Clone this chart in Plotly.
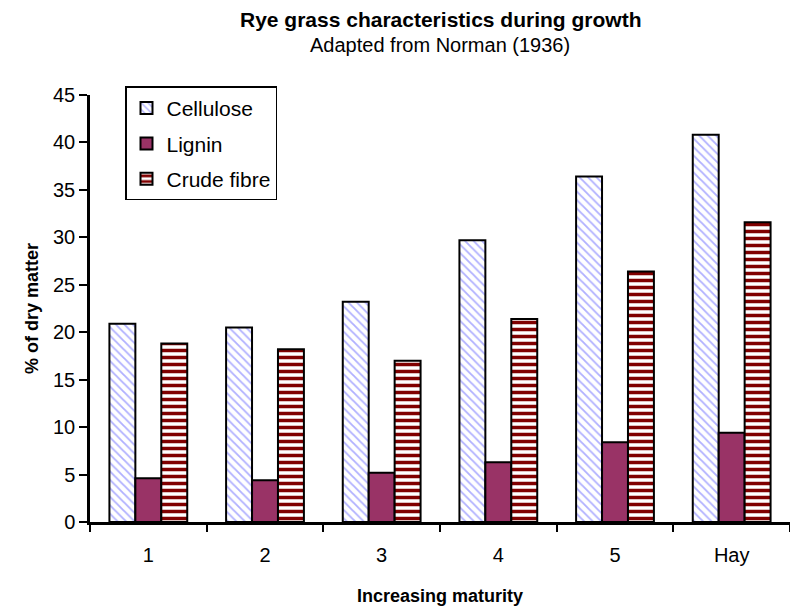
import plotly.graph_objects as go

categories = ["1", "2", "3", "4", "5", "Hay"]
cellulose = [20.9, 20.5, 23.2, 29.7, 36.4, 40.8]
lignin = [4.6, 4.4, 5.2, 6.3, 8.4, 9.4]
crude_fibre = [18.8, 18.2, 17.0, 21.4, 26.4, 31.6]
y_ticks = [0, 5, 10, 15, 20, 25, 30, 35, 40, 45]

FONT = "Liberation Sans, Arial, sans-serif"

fig = go.Figure()
fig.add_trace(go.Bar(
    x=categories, y=cellulose, name="Cellulose", legendgroup="a",
    marker=dict(color="white", line=dict(color="black", width=2),
                pattern=dict(shape="\\", fgcolor="#b0b0ff", bgcolor="white",
                             size=6, solidity=0.3, fgopacity=1, fillmode="overlay")),
))
fig.add_trace(go.Bar(
    x=categories, y=lignin, name="Lignin", legendgroup="b",
    marker=dict(color="#993366", line=dict(color="black", width=2)),
))
fig.add_trace(go.Bar(
    x=categories, y=crude_fibre, name="Crude fibre", legendgroup="c",
    marker=dict(color="white", line=dict(color="black", width=2),
                pattern=dict(shape="-", fgcolor="#800000", bgcolor="white",
                             size=7, solidity=0.5, fgopacity=1, fillmode="overlay")),
))

fig.add_annotation(
    text="<b>Rye grass characteristics during growth</b>",
    xref="paper", yref="paper", x=0.5, y=1.176, xanchor="center", yanchor="middle",
    showarrow=False, font=dict(family=FONT, size=21, color="black"),
)
fig.add_annotation(
    text="Adapted from Norman (1936)",
    xref="paper", yref="paper", x=0.5, y=1.117, xanchor="center", yanchor="middle",
    showarrow=False, font=dict(family=FONT, size=20, color="black"),
)

fig.update_layout(
    width=790, height=612,
    margin=dict(l=90, r=0, t=95, b=90),
    paper_bgcolor="white", plot_bgcolor="white",
    font=dict(family=FONT, size=20, color="black"),
    barmode="group", bargap=0.333, bargroupgap=0,
    hovermode=False,
    legend=dict(
        x=0.05, y=1.02, xanchor="left", yanchor="top",
        bordercolor="black", borderwidth=1.5, bgcolor="white",
        font=dict(family=FONT, size=21),
        tracegroupgap=5, itemwidth=30,
    ),
    xaxis=dict(
        showline=True, linecolor="black", linewidth=2.5,
        ticks="outside", ticklen=7, tickwidth=2, tickcolor="black",
        tickson="boundaries", ticklabelstandoff=13,
        tickfont=dict(size=20),
        title=dict(text="<b>Increasing maturity</b>", font=dict(size=18), standoff=25),
        showgrid=False, zeroline=False,
    ),
    yaxis=dict(
        range=[0, 45], tickvals=y_ticks,
        showline=True, linecolor="black", linewidth=2.5,
        ticks="outside", ticklen=8, tickwidth=2, tickcolor="black",
        tickfont=dict(size=20),
        title=dict(text="<b>% of dry matter</b>", font=dict(size=18), standoff=10),
        showgrid=False, zeroline=False,
    ),
)

fig.write_html("out.html", config={"displayModeBar": False},
               post_script="document.body.style.margin='0px';")
